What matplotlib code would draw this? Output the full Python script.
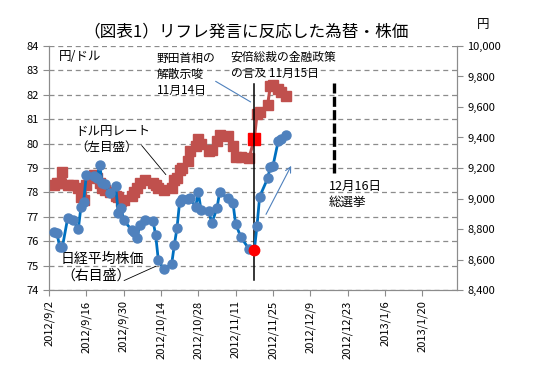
import datetime as dt
import matplotlib
matplotlib.use('Agg')
import matplotlib.pyplot as plt
import matplotlib.dates as mdates
from matplotlib.ticker import FuncFormatter

plt.rcParams['font.family'] = ['Noto Sans CJK JP', 'DejaVu Sans']

# dates as positioned in the picture
dates = ['2012-09-04', '2012-09-05', '2012-09-06', '2012-09-07', '2012-09-09',
         '2012-09-11', '2012-09-13', '2012-09-14', '2012-09-15', '2012-09-16',
         '2012-09-19', '2012-09-20', '2012-09-21', '2012-09-22', '2012-09-23',
         '2012-09-25', '2012-09-27', '2012-09-28', '2012-09-29', '2012-09-30',
         '2012-10-03', '2012-10-04', '2012-10-05', '2012-10-06', '2012-10-08',
         '2012-10-11', '2012-10-12', '2012-10-13', '2012-10-15', '2012-10-18',
         '2012-10-19', '2012-10-20', '2012-10-21', '2012-10-22', '2012-10-24',
         '2012-10-25', '2012-10-27', '2012-10-28', '2012-10-29', '2012-11-01',
         '2012-11-02', '2012-11-04', '2012-11-05', '2012-11-08', '2012-11-10',
         '2012-11-11', '2012-11-13', '2012-11-16', '2012-11-18', '2012-11-19',
         '2012-11-20', '2012-11-23', '2012-11-24', '2012-11-25', '2012-11-27',
         '2012-11-28', '2012-11-30']

# ドル円レート (円/ドル, left axis)
usdjpy = [78.3, 78.4, 78.4, 78.85, 78.3, 78.3, 78.2, 77.8, 77.7, 78.3,
          78.7, 78.6, 78.4, 78.2, 78.1, 78.0, 77.85, 77.8, 77.65, 77.7,
          77.85, 78.0, 78.2, 78.4, 78.5, 78.4, 78.3, 78.2, 78.1, 78.2,
          78.5, 78.6, 78.9, 79.0, 79.3, 79.7, 79.9, 80.2, 80.0, 79.7,
          79.75, 80.1, 80.35, 80.3, 79.9, 79.45, 79.45, 79.4, 80.2, 81.2,
          81.3, 81.6, 82.35, 82.4, 82.25, 82.1, 81.95]

# 日経平均株価 (円, right axis)
nikkei = [8782, 8772, 8684, 8680, 8870, 8859, 8800, 8946, 8979, 9154,
          9148, 9132, 9220, 9100, 9093, 9034, 9082, 8903, 8940, 8859,
          8793, 8782, 8739, 8826, 8859, 8854, 8761, 8597, 8536, 8570,
          8695, 8805, 8979, 8995, 9000, 9001, 8946, 9041, 8925, 8918,
          8837, 8936, 9043, 9001, 8969, 8833, 8745, 8669, 8662, 8820,
          9012, 9132, 9209, 9215, 9379, 9388, 9416]

tick_dates = ['2012-09-02', '2012-09-16', '2012-09-30', '2012-10-14', '2012-10-28',
              '2012-11-11', '2012-11-25', '2012-12-09', '2012-12-23', '2013-01-06',
              '2013-01-20']
x_start, x_end = '2012-09-02', '2013-02-02'
highlight_date = '2012-11-18'
election_date = '2012-12-18'

to_d = lambda s: dt.datetime.strptime(s, '%Y-%m-%d')
x = [to_d(s) for s in dates]
hi = dates.index(highlight_date)
t0 = to_d(x_start)
def day(n):
    return t0 + dt.timedelta(days=n)

fig = plt.figure(figsize=(5.4, 3.73), dpi=100)
ax = fig.add_axes([0.0907, 0.2225, 0.7556, 0.6542])
ax2 = ax.twinx()

red = '#C0504D'
ax.plot(x, usdjpy, color=red, lw=2.2, marker='s', ms=7, mfc=red, mec=red, zorder=3)
ax.plot(x[hi], usdjpy[hi], marker='s', ms=8, color='#FF0000', zorder=4)
ax2.plot(x, nikkei, color='#0070C0', lw=2, marker='o', ms=6.5, mfc='#4F81BD', mec='#4F81BD', zorder=3)
ax2.plot(x[hi], nikkei[hi], marker='o', ms=7.5, color='#FF0000', zorder=4)

ax.set_zorder(ax2.get_zorder() - 1)
ax.patch.set_visible(True)
ax2.patch.set_visible(False)

ax.set_xlim(to_d(x_start), to_d(x_end))
ax.set_ylim(74, 84)
ax.set_yticks(range(74, 85))
ax2.set_ylim(8400, 10000)
ax2.set_yticks(range(8400, 10001, 200))
ax2.yaxis.set_major_formatter(FuncFormatter(lambda v, p: f'{int(v):,}'))
ax.set_xticks([to_d(s) for s in tick_dates])
ax.xaxis.set_major_formatter(FuncFormatter(
    lambda v, p: '{0.year}/{0.month}/{0.day}'.format(mdates.num2date(v))))
for lab in ax.get_xticklabels():
    lab.set_rotation(90)

ax.yaxis.grid(True, linestyle=(0, (4, 3)), color='#8C8C8C', lw=0.9)
ax.set_axisbelow(True)
for a in (ax, ax2):
    a.spines['top'].set_visible(False)
    for s in ('left', 'right', 'bottom'):
        a.spines[s].set_color('#8C8C8C')
    a.tick_params(colors='#8C8C8C', labelcolor='black', labelsize=8, length=4)

# event lines
ax.plot([x[hi], x[hi]], [74.41, 82.44], color='black', lw=1.1, zorder=5)
ax.plot([to_d(election_date)] * 2, [78.8, 82.48], color='black', lw=2.4, dashes=(3, 1), zorder=5)

# annotations
ax.text(day(3.7), 83.85, '円/ドル', fontsize=9, va='top', ha='left')
ax.text(day(40.5), 83.75, '野田首相の\n解散示唆\n11月14日', fontsize=8.5, va='top', ha='left', linespacing=1.3)
ax.annotate('', xy=(day(76.5), 81.65), xytext=(day(61.6), 82.61),
            arrowprops=dict(arrowstyle='-', color='#4F81BD', lw=0.8))
ax.text(day(68.2), 83.8, '安倍総裁の金融政策\nの言及 11月15日', fontsize=8.5, va='top', ha='left', linespacing=1.3)
ax.text(day(9.7), 80.75, 'ドル円レート\n（左目盛）', fontsize=9, va='top', ha='left', linespacing=1.25)
ax.annotate('', xy=(day(44.5), 78.64), xytext=(day(34.1), 80.01),
            arrowprops=dict(arrowstyle='-', color='black', lw=0.6))
ax.text(day(4.5), 75.55, '日経平均株価\n（右目盛）', fontsize=10, va='top', ha='left', linespacing=1.2)
ax.annotate('', xy=(day(41.0), 75.02), xytext=(day(27.2), 74.34),
            arrowprops=dict(arrowstyle='-', color='black', lw=0.6))
ax.annotate('', xy=(day(91.3), 79.19), xytext=(day(80.9), 77.0),
            arrowprops=dict(arrowstyle='->', color='#4F81BD', lw=0.8))
ax.text(day(104.9), 78.5, '12月16日\n総選挙', fontsize=9, va='top', ha='left', linespacing=1.3)

fig.text(0.455, 0.914, '（図表1）リフレ発言に反応した為替・株価', fontsize=12, ha='center', va='center')
fig.text(0.894, 0.933, '円', fontsize=9, ha='center', va='center')

fig.savefig('out.png', dpi=100)
